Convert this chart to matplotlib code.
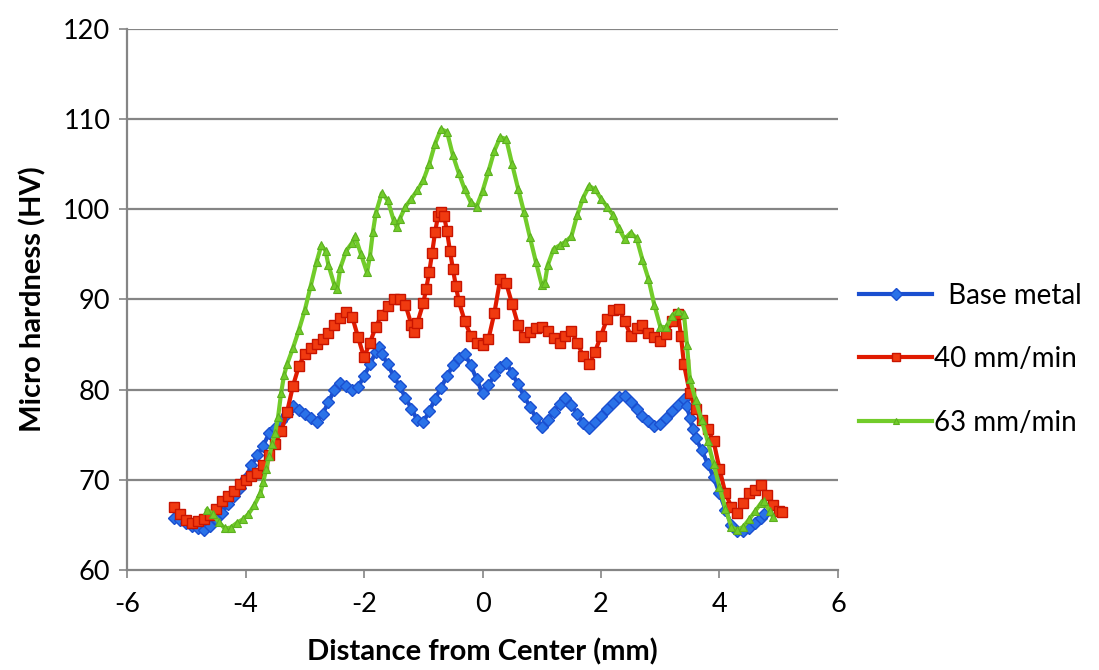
import matplotlib
matplotlib.use("Agg")
import matplotlib.pyplot as plt

plt.rcParams['font.family'] = ['Lato', 'DejaVu Sans']
plt.rcParams['axes.unicode_minus'] = False

# Base metal
base_x = [-5.2, -5.1, -5.0, -4.9, -4.8, -4.7, -4.6, -4.5, -4.4, -4.3, -4.2, -4.1, -4.0, -3.9, -3.8, -3.7,
          -3.6, -3.5, -3.4, -3.3, -3.2, -3.1, -3.0, -2.9, -2.8, -2.7, -2.6, -2.5, -2.4, -2.3, -2.2, -2.1,
          -2.0, -1.9, -1.8, -1.75, -1.7, -1.6, -1.5, -1.4, -1.3, -1.2, -1.1, -1.0, -0.9, -0.8, -0.7, -0.6,
          -0.5, -0.4, -0.3, -0.2, -0.1, 0.0, 0.1, 0.2, 0.3, 0.4, 0.5, 0.6, 0.7, 0.8, 0.9, 1.0, 1.1, 1.2,
          1.3, 1.4, 1.5, 1.6, 1.7, 1.8, 1.9, 2.0, 2.1, 2.2, 2.3, 2.4, 2.5, 2.6, 2.7, 2.8, 2.9, 3.0, 3.1,
          3.2, 3.3, 3.4, 3.45, 3.5, 3.55, 3.6, 3.7, 3.8, 3.9, 4.0, 4.1, 4.2, 4.3, 4.4, 4.5, 4.6, 4.7, 4.75]
base_y = [65.8, 65.5, 65.2, 64.9, 64.6, 64.4, 64.9, 65.6, 66.3, 67.3, 68.2, 69.1, 70.2, 71.6, 72.7, 73.8,
          75.2, 75.8, 76.5, 77.3, 78.2, 77.7, 77.3, 76.9, 76.4, 77.3, 78.6, 80.0, 80.7, 80.4, 80.0, 80.3,
          81.5, 82.8, 84.2, 84.7, 84.0, 82.8, 81.5, 80.4, 79.1, 77.9, 76.6, 76.4, 77.6, 79.0, 80.2, 81.5,
          82.7, 83.5, 84.0, 82.7, 81.2, 79.6, 80.5, 81.6, 82.5, 83.0, 81.8, 80.6, 79.3, 78.1, 76.9, 75.9,
          76.6, 77.5, 78.4, 79.1, 78.3, 77.3, 76.3, 75.7, 76.4, 77.1, 77.8, 78.5, 79.2, 79.3, 78.6, 77.9,
          77.1, 76.5, 76.0, 76.2, 76.9, 77.6, 78.3, 79.0, 78.2, 76.9, 75.6, 74.6, 73.3, 71.8, 70.3, 68.5,
          66.7, 65.0, 64.3, 64.3, 64.6, 65.2, 65.8, 66.2]

# 40 mm/min
r40_x = [-5.2, -5.1, -5.0, -4.9, -4.8, -4.7, -4.6, -4.5, -4.4, -4.3, -4.2, -4.1, -4.0, -3.9, -3.8, -3.7,
         -3.6, -3.5, -3.4, -3.3, -3.2, -3.1, -3.0, -2.9, -2.8, -2.7, -2.6, -2.5, -2.4, -2.3, -2.2, -2.1,
         -2.0, -1.9, -1.8, -1.7, -1.6, -1.5, -1.4, -1.3, -1.2, -1.15, -1.1, -1.0, -0.95, -0.9, -0.85, -0.8,
         -0.75, -0.7, -0.65, -0.6, -0.55, -0.5, -0.45, -0.4, -0.3, -0.2, -0.1, 0.0, 0.1, 0.2, 0.3, 0.4,
         0.5, 0.6, 0.7, 0.8, 0.9, 1.0, 1.1, 1.2, 1.3, 1.4, 1.5, 1.6, 1.7, 1.8, 1.9, 2.0, 2.1, 2.2, 2.3,
         2.4, 2.5, 2.6, 2.7, 2.8, 2.9, 3.0, 3.1, 3.2, 3.3, 3.35, 3.4, 3.5, 3.6, 3.7, 3.8, 3.9, 4.0, 4.1,
         4.2, 4.3, 4.4, 4.5, 4.6, 4.7, 4.8, 4.9, 5.0, 5.05]
r40_y = [67.0, 66.2, 65.5, 65.2, 65.4, 65.6, 66.1, 66.8, 67.6, 68.2, 68.8, 69.5, 70.0, 70.4, 70.8, 71.6,
         72.8, 74.0, 75.4, 77.5, 80.4, 82.6, 84.0, 84.6, 85.1, 85.6, 86.3, 87.2, 88.0, 88.6, 88.1, 85.8,
         83.6, 85.2, 87.0, 88.3, 89.3, 90.1, 90.0, 89.4, 87.2, 86.4, 87.4, 89.6, 91.2, 93.0, 95.2, 97.5,
         99.3, 99.7, 99.3, 97.6, 95.4, 93.4, 91.5, 89.8, 87.6, 86.0, 85.2, 84.9, 85.6, 88.5, 92.3, 91.8,
         89.5, 87.2, 85.8, 86.4, 86.8, 87.0, 86.5, 85.7, 85.2, 85.9, 86.5, 85.2, 83.7, 82.8, 84.2, 86.0,
         87.8, 88.8, 89.0, 87.6, 86.0, 86.8, 87.2, 86.3, 85.8, 85.4, 86.2, 87.6, 88.4, 86.0, 82.8, 79.6,
         77.8, 76.6, 75.6, 74.3, 71.2, 68.5, 67.0, 66.3, 67.4, 68.5, 68.9, 69.4, 68.3, 67.2, 66.5, 66.4]

# 63 mm/min
r63_x = [-4.65, -4.55, -4.45, -4.35, -4.25, -4.15, -4.05, -3.95, -3.85, -3.75, -3.7, -3.65, -3.6, -3.55,
         -3.5, -3.45, -3.4, -3.35, -3.3, -3.2, -3.1, -3.0, -2.9, -2.8, -2.72, -2.65, -2.6, -2.5, -2.45,
         -2.4, -2.3, -2.2, -2.15, -2.05, -1.95, -1.9, -1.85, -1.8, -1.7, -1.6, -1.5, -1.45, -1.4, -1.3,
         -1.2, -1.1, -1.0, -0.9, -0.8, -0.7, -0.6, -0.5, -0.4, -0.3, -0.2, -0.1, 0.0, 0.1, 0.2, 0.3, 0.4,
         0.5, 0.6, 0.7, 0.8, 0.9, 1.0, 1.05, 1.1, 1.2, 1.3, 1.4, 1.5, 1.6, 1.7, 1.8, 1.9, 2.0, 2.1, 2.2,
         2.3, 2.4, 2.5, 2.6, 2.7, 2.8, 2.9, 3.0, 3.1, 3.2, 3.3, 3.4, 3.45, 3.5, 3.6, 3.7, 3.8, 3.9, 4.0,
         4.1, 4.2, 4.3, 4.4, 4.5, 4.6, 4.7, 4.75, 4.85, 4.9]
r63_y = [66.7, 66.2, 65.3, 64.6, 64.7, 65.2, 65.6, 66.2, 67.2, 68.5, 69.8, 71.2, 72.6, 74.0,
         75.2, 77.0, 79.6, 81.6, 82.8, 84.6, 86.6, 88.8, 91.5, 94.2, 96.0, 95.4, 93.8, 91.6, 91.2,
         93.5, 95.4, 96.3, 97.0, 95.0, 93.0, 94.8, 97.5, 99.6, 101.8, 101.0, 98.8, 98.0, 98.9, 100.3,
         101.2, 102.1, 103.2, 105.0, 107.3, 108.9, 108.6, 106.0, 104.0, 102.2, 100.8, 100.3, 102.0, 104.2,
         106.5, 108.0, 107.8, 105.0, 102.3, 99.7, 96.9, 94.2, 91.6, 91.8, 93.8, 95.6, 96.0, 96.4, 97.0,
         99.4, 101.3, 102.6, 102.2, 101.2, 100.3, 99.4, 97.9, 96.7, 97.4, 96.8, 94.4, 92.3, 89.4, 87.0,
         86.9, 88.2, 88.7, 88.4, 85.0, 81.2, 78.8, 76.6, 74.3, 71.8, 69.2, 66.8, 64.8, 64.4, 64.8, 65.6,
         66.5, 67.4, 67.6, 66.5, 65.9]

labels = ["  Base metal", "40 mm/min", "63 mm/min"]
x_ticks = [-6, -4, -2, 0, 2, 4, 6]
y_ticks = [60, 70, 80, 90, 100, 110, 120]

fig = plt.figure(figsize=(10.99, 6.70), dpi=100)
ax = fig.add_axes([0.1156, 0.1493, 0.6469, 0.8074])

for yv in y_ticks[1:]:
    ax.axhline(yv, color='#858585', lw=1.6, zorder=1)

l1, = ax.plot(base_x, base_y, color='#1a4fd0', lw=3, marker='D', ms=6.5,
              mfc='#2a72e8', mec='#1a4fd0', mew=1, zorder=3)
l2, = ax.plot(r40_x, r40_y, color='#e01a00', lw=3, marker='s', ms=7,
              mfc='#f03a10', mec='#c81400', mew=1, zorder=4)
l3, = ax.plot(r63_x, r63_y, color='#72cc2a', lw=3, marker='^', ms=5.5,
              mfc='#72cc2a', mec='#5cb020', mew=0.8, zorder=5)

ax.set_xlim(-6, 6)
ax.set_ylim(60, 120)
ax.set_xticks(x_ticks)
ax.set_yticks(y_ticks)
ax.tick_params(axis='both', direction='out', length=6, width=1.2, color='#858585',
               labelsize=19.5)
ax.tick_params(axis='x', pad=10)
ax.tick_params(axis='y', pad=6)
for s in ['top', 'right']:
    ax.spines[s].set_visible(False)
for s in ['left', 'bottom']:
    ax.spines[s].set_color('#858585')
    ax.spines[s].set_linewidth(1.6)

ax.set_xlabel("Distance from Center (mm)", fontsize=21, fontweight='bold', labelpad=15)
ax.set_ylabel("Micro hardness (HV)", fontsize=21, fontweight='bold', labelpad=12)

fig.legend([l1, l2, l3], labels, loc='center left', bbox_to_anchor=(0.782, 0.464),
           bbox_transform=fig.transFigure, frameon=False, fontsize=20,
           handlelength=2.6, handletextpad=0.1, labelspacing=1.35, markerscale=0.9,
           borderpad=0, borderaxespad=0)

fig.savefig("out.png", dpi=100)
